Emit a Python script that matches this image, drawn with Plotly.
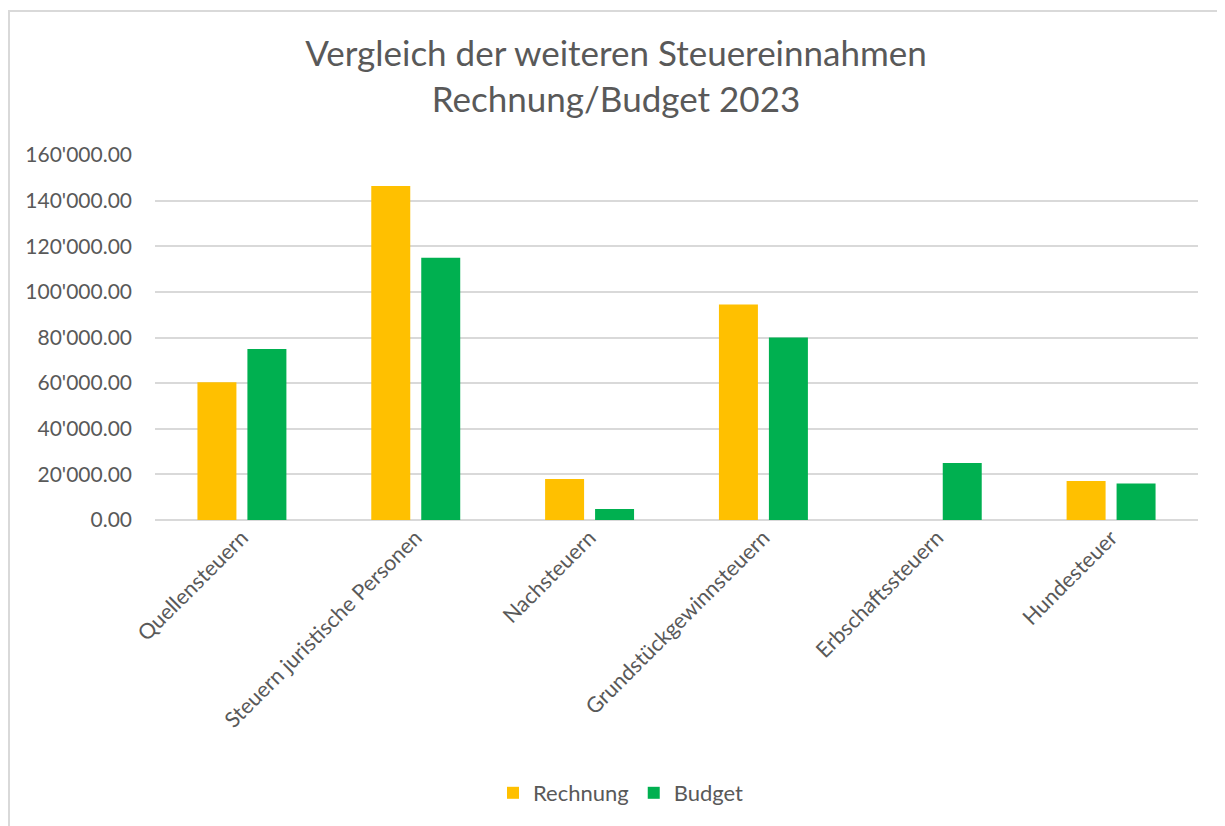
import plotly.graph_objects as go

categories = ["Quellensteuern", "Steuern juristische Personen", "Nachsteuern",
              "Grundstückgewinnsteuern", "Erbschaftssteuern", "Hundesteuer"]
rechnung = [60400, 146400, 18000, 94500, 0, 17100]
budget = [75000, 115000, 4800, 80000, 25000, 16000]
y_ticks = [0, 20000, 40000, 60000, 80000, 100000, 120000, 140000, 160000]

OFF = 8  # default page body margin
W, H = 1225 - OFF, 826 - OFF
# plot area in page pixels: x 155..1198, y 155..520
L = 155 - OFF
T = 155 - OFF
R = W - (1198 - OFF)
B = H - (520 - OFF)
pw, ph = W - L - R, H - T - B

FONT = "Lato"
TXT = "#595959"

fig = go.Figure()
fig.add_trace(go.Bar(name="Rechnung", x=categories, y=rechnung,
                     marker=dict(color="#FFC000", line=dict(width=0))))
fig.add_trace(go.Bar(name="Budget", x=categories, y=budget,
                     marker=dict(color="#00B050", line=dict(width=0))))

def px_to_paper_x(px_page):
    return (px_page - OFF - L) / pw

def px_to_paper_y(py_page):
    return (H - B - (py_page - OFF)) / ph

fig.update_layout(
    width=W, height=H,
    margin=dict(l=L, r=R, t=T, b=B, autoexpand=False),
    paper_bgcolor="white", plot_bgcolor="white",
    separators=".'",
    barmode="group", bargap=0.425, bargroupgap=0.22,
    font=dict(family=FONT, color=TXT, size=21),
    title=dict(text="Vergleich der weiteren Steuereinnahmen<br>Rechnung/Budget 2023",
               x=(616 - OFF) / W, xref="container", xanchor="center",
               y=1 - 58 / H, yref="container", yanchor="top",
               font=dict(family=FONT, size=35, color=TXT)),
    xaxis=dict(tickangle=-45, showgrid=False, showline=False, ticks="",
               tickfont=dict(family=FONT, size=21.5, color=TXT)),
    yaxis=dict(range=[0, 160000], tickvals=y_ticks, tickformat=",.2f",
               showgrid=True, gridcolor="#D9D9D9", gridwidth=1.5,
               zeroline=True, zerolinecolor="#D9D9D9", zerolinewidth=1.5,
               showline=False, ticks="", ticklabelstandoff=22,
               tickfont=dict(family=FONT, size=21, color=TXT)),
    legend=dict(orientation="h", x=px_to_paper_x(621), xanchor="center",
                y=px_to_paper_y(793), yanchor="middle",
                font=dict(family=FONT, size=22, color=TXT),
                itemwidth=30, traceorder="normal"),
    shapes=[dict(type="rect", xref="paper", yref="paper",
                 x0=px_to_paper_x(OFF + 1), x1=px_to_paper_x(1260),
                 y0=px_to_paper_y(870), y1=px_to_paper_y(11),
                 line=dict(color="#D9D9D9", width=2), layer="below")],
)

fig.write_html("out.html")
